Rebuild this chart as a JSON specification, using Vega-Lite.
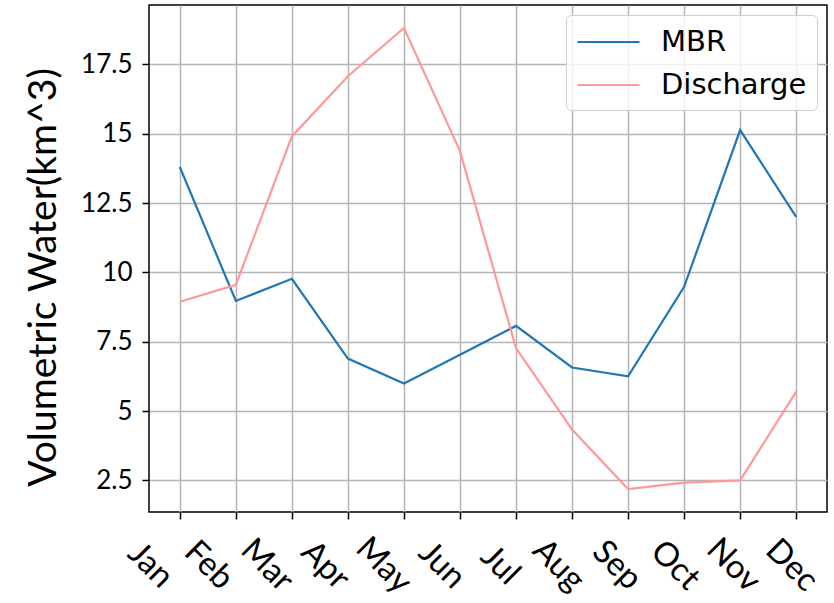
{
  "$schema": "https://vega.github.io/schema/vega-lite/v6.json",
  "width": 678,
  "height": 507,
  "autosize": {"type": "none"},
  "padding": {"left": 149, "top": 5, "right": 7, "bottom": 91},
  "background": "white",
  "config": {
    "view": {"stroke": "black", "strokeWidth": 1.5},
    "axis": {
      "gridColor": "#b5b5b5",
      "gridWidth": 1.5,
      "domain": false,
      "tickColor": "black",
      "tickWidth": 1.5,
      "tickSize": 7,
      "labelFont": "Lato",
      "labelFontSize": 26,
      "labelColor": "black",
      "titleFont": "Lato",
      "titleFontWeight": "normal",
      "titleColor": "black"
    }
  },
  "data": {
    "values": [
      {"month": "Jan", "series": "MBR", "value": 13.8},
      {"month": "Feb", "series": "MBR", "value": 8.97},
      {"month": "Mar", "series": "MBR", "value": 9.77},
      {"month": "Apr", "series": "MBR", "value": 6.89},
      {"month": "May", "series": "MBR", "value": 5.99},
      {"month": "Jun", "series": "MBR", "value": 7.03},
      {"month": "Jul", "series": "MBR", "value": 8.07},
      {"month": "Aug", "series": "MBR", "value": 6.57},
      {"month": "Sep", "series": "MBR", "value": 6.25},
      {"month": "Oct", "series": "MBR", "value": 9.48},
      {"month": "Nov", "series": "MBR", "value": 15.13},
      {"month": "Dec", "series": "MBR", "value": 12.0},
      {"month": "Jan", "series": "Discharge", "value": 8.94},
      {"month": "Feb", "series": "Discharge", "value": 9.55},
      {"month": "Mar", "series": "Discharge", "value": 14.9},
      {"month": "Apr", "series": "Discharge", "value": 17.07},
      {"month": "May", "series": "Discharge", "value": 18.81},
      {"month": "Jun", "series": "Discharge", "value": 14.37},
      {"month": "Jul", "series": "Discharge", "value": 7.27},
      {"month": "Aug", "series": "Discharge", "value": 4.33},
      {"month": "Sep", "series": "Discharge", "value": 2.19},
      {"month": "Oct", "series": "Discharge", "value": 2.42},
      {"month": "Nov", "series": "Discharge", "value": 2.5},
      {"month": "Dec", "series": "Discharge", "value": 5.7}
    ]
  },
  "mark": {"type": "line", "strokeWidth": 2.2},
  "encoding": {
    "x": {
      "field": "month",
      "type": "nominal",
      "sort": null,
      "scale": {"type": "point", "padding": 0.55},
      "axis": {
        "title": null,
        "grid": true,
        "labelAngle": 45,
        "labelAlign": "center",
        "labelBaseline": "middle",
        "labelFontSize": 33,
        "labelPadding": 46,
        "labelOffset": {"expr": "-30 + 25 * datum.index"}
      }
    },
    "y": {
      "field": "value",
      "type": "quantitative",
      "scale": {"domain": [1.36, 19.64], "nice": false, "zero": false},
      "axis": {
        "title": "Volumetric Water(km^3)",
        "titleFontSize": 39,
        "titleY": 272,
        "values": [2.5, 5, 7.5, 10, 12.5, 15, 17.5],
        "labelExpr": "'' + datum.value",
        "labelPadding": 10,
        "titlePadding": 17,
        "grid": true
      }
    },
    "color": {
      "field": "series",
      "type": "nominal",
      "sort": ["MBR", "Discharge"],
      "scale": {"domain": ["MBR", "Discharge"], "range": ["#1f77b4", "#ff9896"]},
      "legend": {
        "title": null,
        "orient": "top-right",
        "offset": 10,
        "symbolType": "M-1,0H3",
        "symbolSize": 961,
        "symbolStrokeWidth": 2.2,
        "labelFont": "DejaVu Sans",
        "labelFontSize": 29,
        "labelColor": "black",
        "labelOffset": 51,
        "rowPadding": 11,
        "padding": 10,
        "fillColor": "rgba(255,255,255,0.8)",
        "strokeColor": "#d0d0d0",
        "cornerRadius": 5
      }
    }
  }
}
